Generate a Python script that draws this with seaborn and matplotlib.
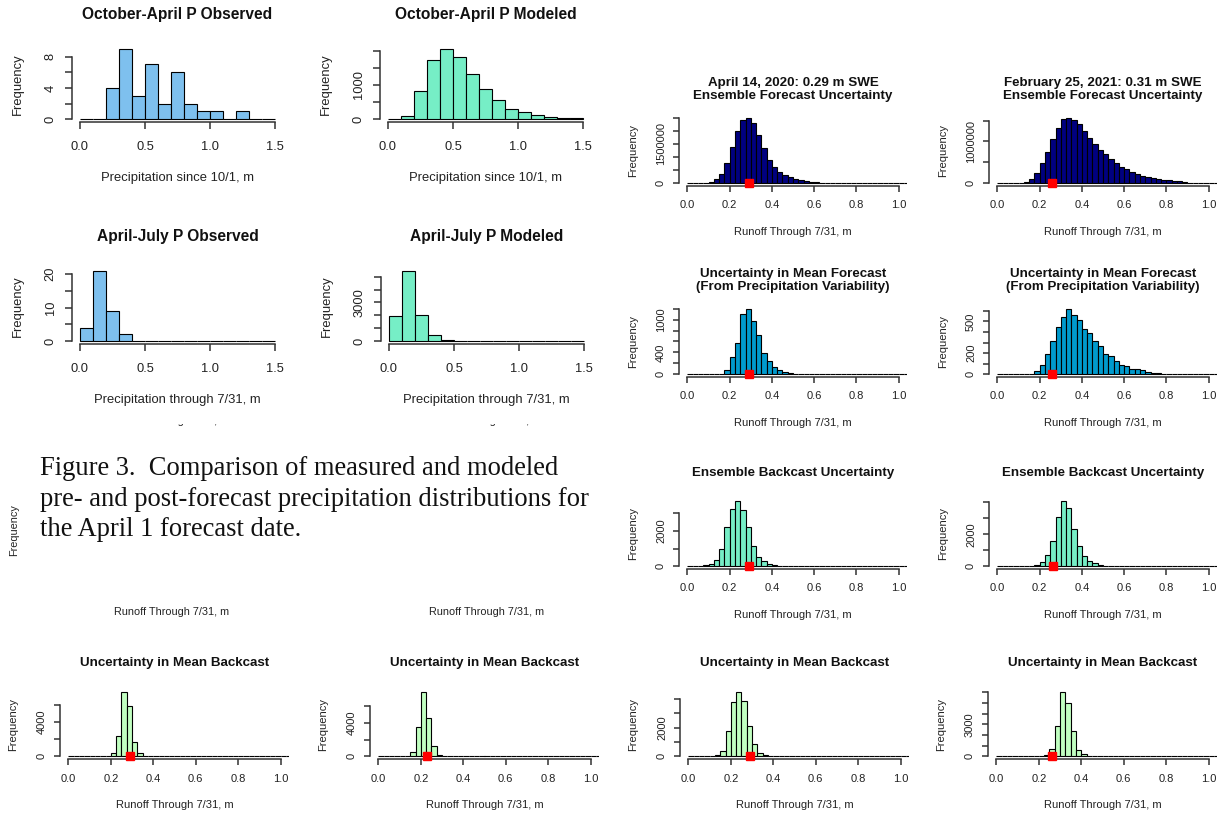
import numpy as np
import pandas as pd
import matplotlib
matplotlib.use("Agg")
import matplotlib.pyplot as plt
import seaborn as sns
from matplotlib.patches import Rectangle

# ------------------------------------------------------------------ data
# precipitation histograms: 0.1 m bins from 0.0 to 1.5 m
precip_bin_width = 0.1
precip_bin_range = (0.0, 1.5)
oct_apr_observed = [0, 0, 4, 9, 3, 7, 2, 6, 2, 1, 1, 0, 1, 0, 0]
oct_apr_modeled = [3, 105, 835, 1730, 2050, 1815, 1330, 865, 545, 300, 195, 115, 70, 30, 20]
apr_jul_observed = [4, 21, 9, 2, 0, 0, 0, 0, 0, 0, 0, 0, 0, 0, 0]
apr_jul_modeled = [1950, 5450, 2000, 480, 80, 0, 0, 0, 0, 0, 0, 0, 0, 0, 0]

# runoff histograms: 0.025 m bins starting at 0.0 m (empty bins after the list)
runoff_bin_width = 0.025
runoff_bin_range = (0.0, 1.05)
forecast_2020_ensemble = [0, 0, 0, 25000, 60000, 150000, 375000, 790000, 1375000, 1980000,
                          2410000, 2500000, 2280000, 1840000, 1350000, 900000, 625000, 450000,
                          310000, 225000, 150000, 110000, 75000, 50000, 35000, 25000, 12000, 8000]
forecast_2021_ensemble = [0, 0, 0, 0, 10000, 25000, 110000, 255000, 475000, 745000, 1060000,
                          1330000, 1530000, 1570000, 1520000, 1410000, 1260000, 1090000, 945000,
                          800000, 690000, 585000, 490000, 400000, 335000, 280000, 230000, 180000,
                          160000, 125000, 100000, 87000, 70000, 55000, 45000, 38000, 20000,
                          12000, 8000, 5000, 3000, 2000]
forecast_2020_mean = [0, 0, 0, 0, 0, 0, 0, 74, 320, 572, 1095, 1200, 978, 720, 388, 246, 142,
                      74, 37, 18, 12, 10, 5]
forecast_2021_mean = [0, 0, 0, 0, 0, 0, 0, 29, 86, 194, 318, 449, 544, 620, 563, 515, 429, 388,
                      318, 264, 188, 175, 127, 89, 80, 54, 48, 38, 25, 16, 10, 6, 6, 3, 3, 0, 0,
                      3, 0, 3]
backcast_2020_ensemble = [0, 0, 0, 55, 130, 350, 1000, 2185, 3220, 3685, 3150, 2185, 1150, 540,
                          280, 130, 55, 35]
backcast_2021_ensemble = [0, 0, 0, 0, 0, 0, 40, 60, 290, 720, 1570, 3070, 4100, 3610, 2310,
                          1240, 640, 350, 185, 100, 40]
mean_backcast_a = [0, 0, 0, 0, 0, 0, 0, 0, 350, 2370, 7500, 5860, 1670, 350]
mean_backcast_b = [0, 0, 0, 0, 0, 0, 480, 3520, 7720, 4600, 1200, 200]
mean_backcast_c = [0, 0, 0, 0, 0, 70, 350, 1790, 3810, 4490, 3840, 2140, 840, 230, 90]
mean_backcast_d = [0, 0, 0, 0, 0, 0, 0, 0, 0, 90, 680, 2800, 6000, 4970, 2330, 590, 190]

# observed runoff (red squares)
observed_runoff = {"a": 0.29, "b": 0.26, "c": 0.29, "d": 0.26, "e": 0.29, "f": 0.265,
                   "g": 0.29, "h": 0.23, "i": 0.29, "j": 0.26}

# tick labels
precip_xticks = [0.0, 0.5, 1.0, 1.5]
precip_xticklabels = ["0.0", "0.5", "1.0", "1.5"]
runoff_xticks = [0.0, 0.2, 0.4, 0.6, 0.8, 1.0]
runoff_xticklabels = ["0.0", "0.2", "0.4", "0.6", "0.8", "1.0"]

yt_oct_obs = [0, 2, 4, 6, 8];                 yl_oct_obs = ["0", "", "4", "", "8"]
yt_oct_mod = [0, 500, 1000, 1500, 2000];      yl_oct_mod = ["0", "", "1000", "", ""]
yt_jul_obs = [0, 5, 10, 15, 20];              yl_jul_obs = ["0", "", "10", "", "20"]
yt_jul_mod = [0, 1000, 2000, 3000, 4000, 5000]; yl_jul_mod = ["0", "", "", "3000", "", ""]
yt_fe20 = [0, 500000, 1000000, 1500000, 2000000, 2500000]
yl_fe20 = ["0", "", "", "1500000", "", ""]
yt_fe21 = [0, 500000, 1000000, 1500000];      yl_fe21 = ["0", "", "1000000", ""]
yt_fm20 = [0, 200, 400, 600, 800, 1000, 1200]; yl_fm20 = ["0", "", "400", "", "", "1000", ""]
yt_fm21 = [0, 100, 200, 300, 400, 500, 600];  yl_fm21 = ["0", "", "200", "", "", "500", ""]
yt_be20 = [0, 1000, 2000, 3000];              yl_be20 = ["0", "", "2000", ""]
yt_be21 = [0, 1000, 2000, 3000, 4000];        yl_be21 = ["0", "", "2000", "", ""]
yt_mb_a = [0, 2000, 4000, 6000];              yl_mb_a = ["0", "", "4000", ""]
yt_mb_b = [0, 2000, 4000, 6000];              yl_mb_b = ["0", "", "4000", ""]
yt_mb_c = [0, 1000, 2000, 3000, 4000];        yl_mb_c = ["0", "", "2000", "", ""]
yt_mb_d = [0, 1000, 2000, 3000, 4000, 5000, 6000]
yl_mb_d = ["0", "", "", "3000", "", "", ""]

caption = ("Figure 3.  Comparison of measured and modeled\n"
           "pre- and post-forecast precipitation distributions for\n"
           "the April 1 forecast date.")

# ------------------------------------------------------------------ style
sns.set_style("white")
plt.rcParams["font.family"] = ["Liberation Sans", "DejaVu Sans"]

W, H = 1217, 813
fig = plt.figure(figsize=(W / 100, H / 100), dpi=100)

C_SKY = "#7EC0EE"
C_AQUA = "#76EEC6"
C_NAVY = "#000080"
C_DEEP = "#009ACD"
C_PALE = "#C1FFC1"
AXC = "#333333"

STYLES = {
    "top": dict(title=11.2, tick=9.3, label=9.4, title_off=31.5, xlab_off=56.5, ylab_off=54,
                xpad=8.5, ypad=6, ticklen=5),
    "right": dict(title=9.6, tick=8, label=8, title_off=25.5, xlab_off=46, ylab_off=46,
                  xpad=6.2, ypad=5.4, ticklen=4),
    "bottom": dict(title=9.6, tick=8, label=8, title_off=27, xlab_off=46, ylab_off=47,
                   xpad=7, ypad=5.4, ticklen=4),
}


def panel(rect, counts, bin_width, bin_range, plot_range, color, title, xlabel,
          xticks, xticklabels, yticks, yticklabels, style, obs=None):
    st = STYLES[style]
    left, bottom, w, h = rect
    ax = fig.add_axes([left / W, 1 - bottom / H, w / W, h / H])
    nbins = int(round((bin_range[1] - bin_range[0]) / bin_width))
    edges = bin_range[0] + bin_width * np.arange(nbins + 1)
    full = np.zeros(nbins)
    full[:len(counts)] = counts
    centers = (edges[:-1] + edges[1:]) / 2
    df = pd.DataFrame({"value": centers, "count": full})
    sns.histplot(data=df, x="value", weights="count", bins=list(edges), color=color,
                 edgecolor="black", linewidth=0.8, alpha=1, ax=ax)
    ymax = max(counts)
    r = plot_range[1] - plot_range[0]
    ax.set_xlim(plot_range[0] - 0.04 * r, plot_range[1] + 0.04 * r)
    ax.set_ylim(-0.04 * ymax, 1.04 * ymax)
    for s in ("top", "right"):
        ax.spines[s].set_visible(False)
    for s in ("left", "bottom"):
        ax.spines[s].set_color(AXC)
        ax.spines[s].set_linewidth(1.1)
    ax.spines["left"].set_bounds(yticks[0], yticks[-1])
    ax.spines["bottom"].set_bounds(xticks[0], xticks[-1])
    ax.set_xticks(xticks, xticklabels)
    ax.set_yticks(yticks, yticklabels)
    ax.tick_params(axis="both", which="major", direction="out", length=st["ticklen"],
                   width=1.1, color=AXC, labelsize=st["tick"], labelcolor="#222222",
                   bottom=True, left=True, top=False, right=False)
    ax.tick_params(axis="x", pad=st["xpad"])
    ax.tick_params(axis="y", pad=st["ypad"])
    plt.setp(ax.get_yticklabels(), rotation=90, va="center")
    ax.set_xlabel("")
    ax.set_ylabel("")
    ax.text(0.5, 1 + st["title_off"] / h, title, transform=ax.transAxes, ha="center",
            va="center", fontsize=st["title"], fontweight="bold", color="#111111",
            linespacing=1.12)
    ax.text(0.5, -st["xlab_off"] / h, xlabel, transform=ax.transAxes, ha="center",
            va="center", fontsize=st["label"], color="#222222")
    ax.text(-st["ylab_off"] / w, 0.5, "Frequency", transform=ax.transAxes, ha="center",
            va="center", rotation=90, fontsize=st["label"], color="#222222")
    if obs is not None:
        ax.plot([obs], [0], marker="s", color="red", markersize=5.3, linestyle="none",
                clip_on=False, zorder=6)
    return ax


P_OCT = "Precipitation since 10/1, m"
P_JUL = "Precipitation through 7/31, m"
RUN = "Runoff Through 7/31, m"

# top-left precipitation panels
panel((72, 122, 211, 76), oct_apr_observed, precip_bin_width, precip_bin_range, precip_bin_range,
      C_SKY, "October-April P Observed", P_OCT, precip_xticks, precip_xticklabels,
      yt_oct_obs, yl_oct_obs, "top")
panel((380, 122, 211, 76), oct_apr_modeled, precip_bin_width, precip_bin_range, precip_bin_range,
      C_AQUA, "October-April P Modeled", P_OCT, precip_xticks, precip_xticklabels,
      yt_oct_mod, yl_oct_mod, "top")
panel((72, 344, 211, 76), apr_jul_observed, precip_bin_width, precip_bin_range, precip_bin_range,
      C_SKY, "April-July P Observed", P_JUL, precip_xticks, precip_xticklabels,
      yt_jul_obs, yl_jul_obs, "top")
panel((381, 344, 211, 76), apr_jul_modeled, precip_bin_width, precip_bin_range, precip_bin_range,
      C_AQUA, "April-July P Modeled", P_JUL, precip_xticks, precip_xticklabels,
      yt_jul_mod, yl_jul_mod, "top")

RUN_PLOT = (0.0, 1.0)
# right-hand runoff panels
panel((679, 186, 228, 71), forecast_2020_ensemble, runoff_bin_width, runoff_bin_range, RUN_PLOT,
      C_NAVY, "April 14, 2020: 0.29 m SWE\nEnsemble Forecast Uncertainty", RUN,
      runoff_xticks, runoff_xticklabels, yt_fe20, yl_fe20, "right", observed_runoff["a"])
panel((989, 186, 228, 71), forecast_2021_ensemble, runoff_bin_width, runoff_bin_range, RUN_PLOT,
      C_NAVY, "February 25, 2021: 0.31 m SWE\nEnsemble Forecast Uncertainty", RUN,
      runoff_xticks, runoff_xticklabels, yt_fe21, yl_fe21, "right", observed_runoff["b"])
panel((679, 377, 228, 71), forecast_2020_mean, runoff_bin_width, runoff_bin_range, RUN_PLOT,
      C_DEEP, "Uncertainty in Mean Forecast\n(From Precipitation Variability)", RUN,
      runoff_xticks, runoff_xticklabels, yt_fm20, yl_fm20, "right", observed_runoff["c"])
panel((989, 377, 228, 71), forecast_2021_mean, runoff_bin_width, runoff_bin_range, RUN_PLOT,
      C_DEEP, "Uncertainty in Mean Forecast\n(From Precipitation Variability)", RUN,
      runoff_xticks, runoff_xticklabels, yt_fm21, yl_fm21, "right", observed_runoff["d"])
panel((679, 569, 228, 71), backcast_2020_ensemble, runoff_bin_width, runoff_bin_range, RUN_PLOT,
      C_AQUA, "Ensemble Backcast Uncertainty", RUN,
      runoff_xticks, runoff_xticklabels, yt_be20, yl_be20, "right", observed_runoff["e"])
panel((989, 569, 228, 71), backcast_2021_ensemble, runoff_bin_width, runoff_bin_range, RUN_PLOT,
      C_AQUA, "Ensemble Backcast Uncertainty", RUN,
      runoff_xticks, runoff_xticklabels, yt_be21, yl_be21, "right", observed_runoff["f"])

# bottom row
panel((60, 759, 229, 69.5), mean_backcast_a, runoff_bin_width, runoff_bin_range, RUN_PLOT,
      C_PALE, "Uncertainty in Mean Backcast", RUN,
      runoff_xticks, runoff_xticklabels, yt_mb_a, yl_mb_a, "bottom", observed_runoff["g"])
panel((370, 759, 229, 69.5), mean_backcast_b, runoff_bin_width, runoff_bin_range, RUN_PLOT,
      C_PALE, "Uncertainty in Mean Backcast", RUN,
      runoff_xticks, runoff_xticklabels, yt_mb_b, yl_mb_b, "bottom", observed_runoff["h"])
panel((680, 759, 229, 69.5), mean_backcast_c, runoff_bin_width, runoff_bin_range, RUN_PLOT,
      C_PALE, "Uncertainty in Mean Backcast", RUN,
      runoff_xticks, runoff_xticklabels, yt_mb_c, yl_mb_c, "bottom", observed_runoff["i"])
panel((988, 759, 229, 69.5), mean_backcast_d, runoff_bin_width, runoff_bin_range, RUN_PLOT,
      C_PALE, "Uncertainty in Mean Backcast", RUN,
      runoff_xticks, runoff_xticklabels, yt_mb_d, yl_mb_d, "bottom", observed_runoff["j"])

# remnants of the panels hidden behind the caption
fig.text(14 / W, 1 - 530 / H, "Frequency", rotation=90, ha="center", va="center",
         fontsize=7.8, color="#222222")
fig.text(172 / W, 1 - 612 / H, RUN, ha="center", va="center", fontsize=7.8, color="#222222")
fig.text(487 / W, 1 - 612 / H, RUN, ha="center", va="center", fontsize=7.8, color="#222222")
fig.text(172 / W, 1 - 421 / H, RUN, ha="center", va="center", fontsize=7.8, color="#222222")
fig.text(484 / W, 1 - 421 / H, RUN, ha="center", va="center", fontsize=7.8, color="#222222")
fig.patches.append(Rectangle((100 / W, 1 - 424 / H), 480 / W, 13.5 / H,
                             transform=fig.transFigure, facecolor="white", edgecolor="none",
                             zorder=10))

# caption
fig.text(40 / W, 1 - 499 / H, caption, ha="left", va="center", fontsize=19.1,
         family=["Liberation Serif", "DejaVu Serif"], color="#111111", linespacing=1.31)

fig.savefig("out.png", dpi=100)
